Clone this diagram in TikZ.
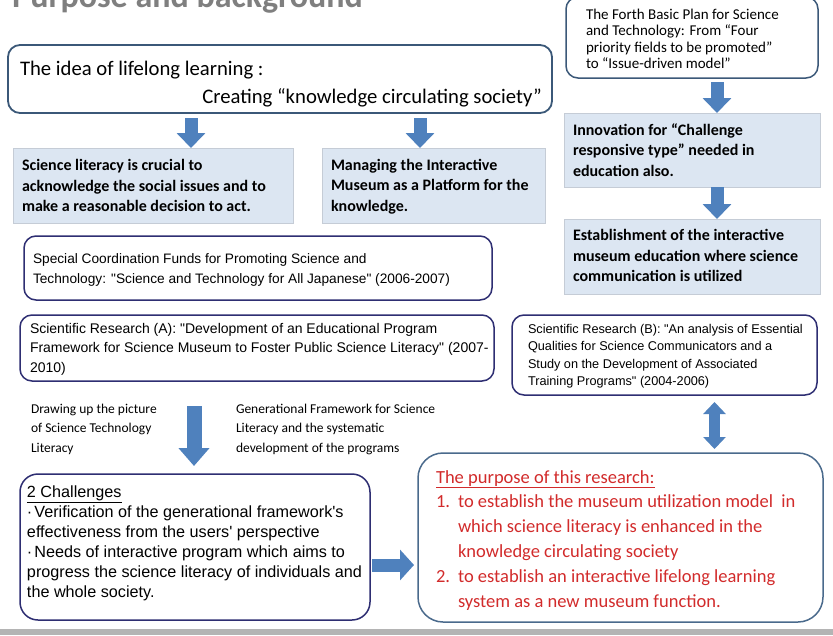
\documentclass[tikz,border=0pt]{standalone}
\usepackage{fontspec}
\setmainfont{Carlito}
\newfontfamily\arialfont{Liberation Sans}
\usetikzlibrary{arrows.meta}
\definecolor{arrowblue}{HTML}{4F81BD}
\definecolor{paleblue}{HTML}{DCE6F2}
\definecolor{paleedge}{HTML}{C5CCD6}
\definecolor{slateedge}{HTML}{3B5878}
\definecolor{navyedge}{HTML}{2E2E72}
\definecolor{purposeedge}{HTML}{4A6A8C}
\definecolor{purposered}{HTML}{D22B2B}
\definecolor{titlegray}{HTML}{7F7F7F}
\definecolor{bargray}{HTML}{B4B4B4}
\begin{document}
\begin{tikzpicture}[x=1pt,y=-1pt,
  frame/.style={inner sep=0pt, outer sep=0pt, anchor=north west},
  roundbox/.style={frame, draw=#1, line width=1.5pt, rounded corners=12pt, fill=white},
  bluebox/.style={frame, draw=paleedge, line width=0.8pt, fill=paleblue},
  txt/.style={inner sep=0pt, outer sep=0pt, anchor=base west, align=left},
  boldtxt/.style={txt, font=\fontsize{16}{20.7}\selectfont\bfseries},
  barrow/.style args={#1/#2/#3}{draw=arrowblue, line width=#1, -{Triangle[width=#2,length=#3]}},
  darrow/.style args={#1/#2/#3}{draw=arrowblue, line width=#1, {Triangle[width=#2,length=#3]}-{Triangle[width=#2,length=#3]}},
]
\useasboundingbox (0,0) rectangle (833,635);
\fill[white] (0,0) rectangle (833,635);

% title (cut off at the top)
\node[inner sep=0pt, anchor=base west, text=titlegray,
  font=\fontsize{34}{40}\selectfont\bfseries] (title) at (12,7) {Purpose and background};

% bottom bar
\fill[bargray] (0,629) rectangle (833,635);

% ---------- boxes (text nodes anchored at the baseline of their LAST line) ----------
\node[roundbox=slateedge, line width=1.8pt, minimum width=544pt, minimum height=68pt] (idea) at (8,45) {};
\node[txt, font=\fontsize{20.7}{28}\selectfont] (ideaA) at (20,75) {The idea of lifelong learning :};
\node[inner sep=0pt, anchor=base east, font=\fontsize{20.7}{28}\selectfont] (ideaB) at (542,103) {Creating “knowledge circulating society”};

\node[bluebox, minimum width=280pt, minimum height=75pt] (lit) at (13,148) {};
\node[boldtxt] (litT) at (22,211.9) {Science literacy is crucial to\\acknowledge the social issues and to\\make a reasonable decision to act.};

\node[bluebox, minimum width=223pt, minimum height=75pt] (mus) at (322,148) {};
\node[boldtxt] (musT) at (331,211.4) {Managing the Interactive\\Museum as a Platform for the\\knowledge.};

\node[roundbox=slateedge, minimum width=252pt, minimum height=81pt] (plan) at (566,-3) {};
\node[txt, font=\fontsize{15}{16.6}\selectfont] (planT) at (586,68.8) {The Forth Basic Plan for Science\\and Technology: From “Four\\priority fields to be promoted”\\to “Issue-driven model”};

\node[bluebox, minimum width=256pt, minimum height=74pt] (innov) at (564,113) {};
\node[boldtxt] (innovT) at (573,176.4) {Innovation for “Challenge\\responsive type” needed in\\education also.};

\node[bluebox, minimum width=256pt, minimum height=75pt] (estab) at (564,219) {};
\node[boldtxt] (estabT) at (573,281.9) {Establishment of the interactive\\museum education where science\\communication is utilized};

\node[roundbox=navyedge, minimum width=468pt, minimum height=64pt] (scf) at (24,236) {};
\node[txt, font=\arialfont\fontsize{13.7}{20}\selectfont] (scfT) at (33,283) {Special Coordination Funds for Promoting Science and\\Technology: "Science and Technology for All Japanese" (2006-2007)};

\node[roundbox=navyedge, minimum width=474pt, minimum height=66pt] (sra) at (20,315) {};
\node[txt, font=\arialfont\fontsize{14}{19.5}\selectfont] (sraT) at (30,372) {Scientific Research (A): "Development of an Educational Program\\Framework for Science Museum to Foster Public Science Literacy" (2007-\\2010)};

\node[roundbox=navyedge, minimum width=305pt, minimum height=80pt] (srb) at (512,315) {};
\node[txt, font=\arialfont\fontsize{12.7}{17.6}\selectfont] (srbT) at (528,385.8) {Scientific Research (B): "An analysis of Essential\\Qualities for Science Communicators and a\\Study on the Development of Associated\\Training Programs" (2004-2006)};

\node[txt, font=\fontsize{13.5}{19.5}\selectfont] (drawT) at (31,452) {Drawing up the picture\\of Science Technology\\Literacy};
\node[txt, font=\fontsize{13.5}{19.5}\selectfont] (genT) at (236,452) {Generational Framework for Science\\Literacy and the systematic\\development of the programs};

\node[roundbox=navyedge, rounded corners=18pt, minimum width=350pt, minimum height=146pt] (chal) at (20,474) {};
\node[txt, font=\arialfont\fontsize{16.2}{20}\selectfont] (chalT) at (27,597) {\underline{2 Challenges}\\·\hspace{2pt}Verification of the generational framework's\\effectiveness from the users' perspective\\·\hspace{2pt}Needs of interactive program which aims to\\progress the science literacy of individuals and\\the whole society.};

\node[roundbox=purposeedge, rounded corners=25pt, minimum width=405pt, minimum height=169pt] (purp) at (418,453) {};
\node[txt, text=purposered, font=\fontsize{18.5}{25}\selectfont] (purpH) at (436,483) {\underline{The purpose of this research:}};
\node[txt, text=purposered, font=\fontsize{18.5}{25}\selectfont] (n1) at (436,507.5) {1.};
\node[txt, text=purposered, font=\fontsize{18.5}{25}\selectfont] (p1) at (458,557.5) {to establish the museum utilization model\ \ in\\which science literacy is enhanced in the\\knowledge circulating society};
\node[txt, text=purposered, font=\fontsize{18.5}{25}\selectfont] (n2) at (436,582.5) {2.};
\node[txt, text=purposered, font=\fontsize{18.5}{25}\selectfont] (p2) at (458,607.5) {to establish an interactive lifelong learning\\system as a new museum function.};

% ---------- arrows ----------
\coordinate (a1s) at (191,118);  \coordinate (a1e) at (191,148);
\coordinate (a2s) at (420,118);  \coordinate (a2e) at (420,148);
\coordinate (a3s) at (717,82);   \coordinate (a3e) at (717,113);
\coordinate (a4s) at (717,187);  \coordinate (a4e) at (717,219);
\coordinate (a5s) at (194,406);  \coordinate (a5e) at (194,466);
\coordinate (a6s) at (372,565);  \coordinate (a6e) at (414,565);
\coordinate (a7s) at (714.5,402);\coordinate (a7e) at (714.5,449);

\draw[barrow=13pt/28pt/15pt] (a1s) -- (a1e);
\draw[barrow=13pt/28pt/15pt] (a2s) -- (a2e);
\draw[barrow=13pt/28pt/15pt] (a3s) -- (a3e);
\draw[barrow=13pt/28pt/15pt] (a4s) -- (a4e);
\draw[barrow=15pt/30pt/18pt] (a5s) -- (a5e);
\draw[barrow=13pt/30pt/14pt] (a6s) -- (a6e);
\draw[darrow=11pt/22pt/12pt] (a7s) -- (a7e);
\end{tikzpicture}
\end{document}
